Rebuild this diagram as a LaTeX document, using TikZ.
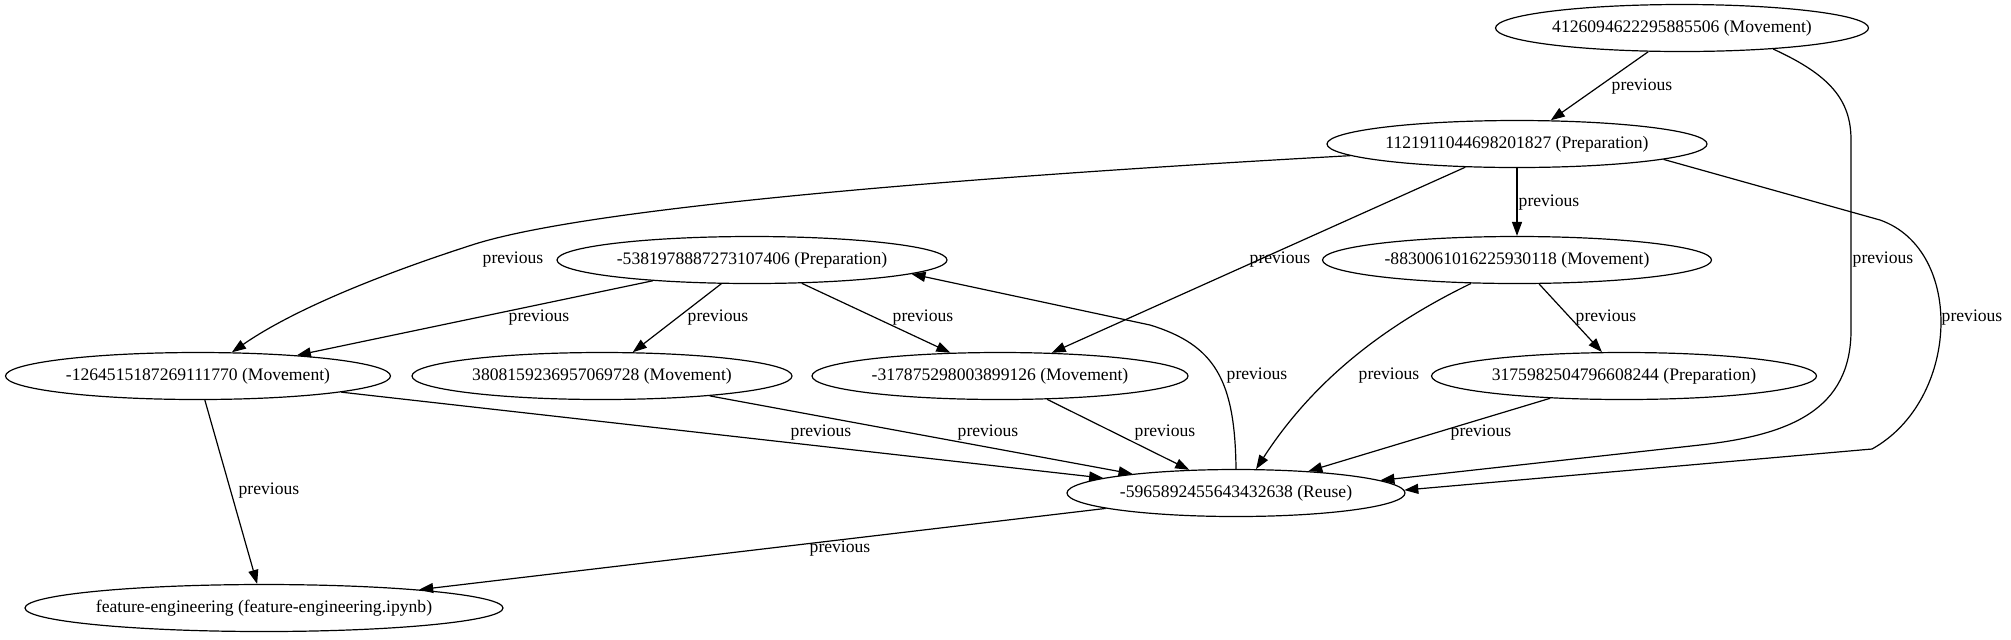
\documentclass[tikz,border=0pt]{standalone}
\usepackage{fontspec}
\setmainfont{Liberation Serif}
\usepackage{tikz}
\usetikzlibrary{shapes.geometric,arrows.meta}
\tikzset{
  nbnode/.style={
    ellipse, draw=black, line width=0.6pt,
    minimum width=#1, minimum height=23.5pt, inner sep=0pt,
    font=\fontsize{8.8}{10}\selectfont
  },
  nbarrow/.style={-{Triangle[length=7pt,width=5pt]}, line width=0.6pt, draw=black},
  nblabel/.style={font=\fontsize{8.8}{10}\selectfont, inner sep=0pt},
}

\begin{document}
\begin{tikzpicture}[x=0.5pt, y=-0.5pt]
  \useasboundingbox (0,0) rectangle (2011,639);
  % nodes
  \node (m1) [nbnode=186.5pt] at (1682,28) {4126094622295885506 (Movement)};
  \node (p1) [nbnode=190pt] at (1517,144) {1121911044698201827 (Preparation)};
  \node (p2) [nbnode=195pt] at (752,260) {-5381978887273107406 (Preparation)};
  \node (m2) [nbnode=194.5pt] at (1517,260) {-8830061016225930118 (Movement)};
  \node (m3) [nbnode=192.5pt] at (198,376) {-1264515187269111770 (Movement)};
  \node (m4) [nbnode=190pt] at (602,376) {3808159236957069728 (Movement)};
  \node (m5) [nbnode=188pt] at (1000,376) {-317875298003899126 (Movement)};
  \node (p3) [nbnode=192.5pt] at (1624,376) {3175982504796608244 (Preparation)};
  \node (ru) [nbnode=169pt] at (1236,493) {-5965892455643432638 (Reuse)};
  \node (nb) [nbnode=239pt] at (264,608) {feature-engineering (feature-engineering.ipynb)};
  % edges
  \draw[nbarrow] (m1) -- (p1);
  \draw[nbarrow] (m1.-13) .. controls (1830,75) and (1851,100) .. (1851,140) -- (1851,330)
    .. controls (1851,410) and (1790,435) .. (1700,445) -- (ru.5);
  \draw[nbarrow] (p1.184) .. controls (1000,175) and (600,205) .. (475,244)
    .. controls (400,268) and (300,305) .. (m3.35);
  \draw[nbarrow] (p1) -- (m5);
  \draw[nbarrow] (p1) -- (m2);
  \draw[nbarrow] (p1.-6) -- (1880,220) .. controls (1965,250) and (1960,400) .. (1872,449) -- (ru.1);
  \draw[nbarrow] (p2) -- (m3);
  \draw[nbarrow] (p2) -- (m4);
  \draw[nbarrow] (p2) -- (m5);
  \draw[nbarrow] (ru.north) .. controls (1235,380) and (1215,345) .. (1150,325) -- (p2.-5);
  \draw[nbarrow] (m2.207) .. controls (1400,318) and (1320,370) .. (ru.50);
  \draw[nbarrow] (m2) -- (p3);
  \draw[nbarrow] (m3) -- (ru);
  \draw[nbarrow] (m4) -- (ru);
  \draw[nbarrow] (m5) -- (ru);
  \draw[nbarrow] (p3) -- (ru);
  \draw[nbarrow] (m3) -- (nb);
  \draw[nbarrow] (ru) -- (nb);
  % labels
  \node (l1) [nblabel] at (1642,87) {previous};
  \node (l2) [nblabel] at (1883,260) {previous};
  \node (l3) [nblabel] at (513,260) {previous};
  \node (l4) [nblabel] at (1280,260) {previous};
  \node (l5) [nblabel] at (1549,203) {previous};
  \node (l6) [nblabel] at (1972,318) {previous};
  \node (l7) [nblabel] at (539,318) {previous};
  \node (l8) [nblabel] at (718,318) {previous};
  \node (l9) [nblabel] at (923,318) {previous};
  \node (l10) [nblabel] at (1257,376) {previous};
  \node (l11) [nblabel] at (1389,376) {previous};
  \node (l12) [nblabel] at (1606,318) {previous};
  \node (l13) [nblabel] at (821,433) {previous};
  \node (l14) [nblabel] at (988,433) {previous};
  \node (l15) [nblabel] at (1165,433) {previous};
  \node (l16) [nblabel] at (1481,433) {previous};
  \node (l17) [nblabel] at (269,491) {previous};
  \node (l18) [nblabel] at (840,549) {previous};
\end{tikzpicture}
\end{document}
